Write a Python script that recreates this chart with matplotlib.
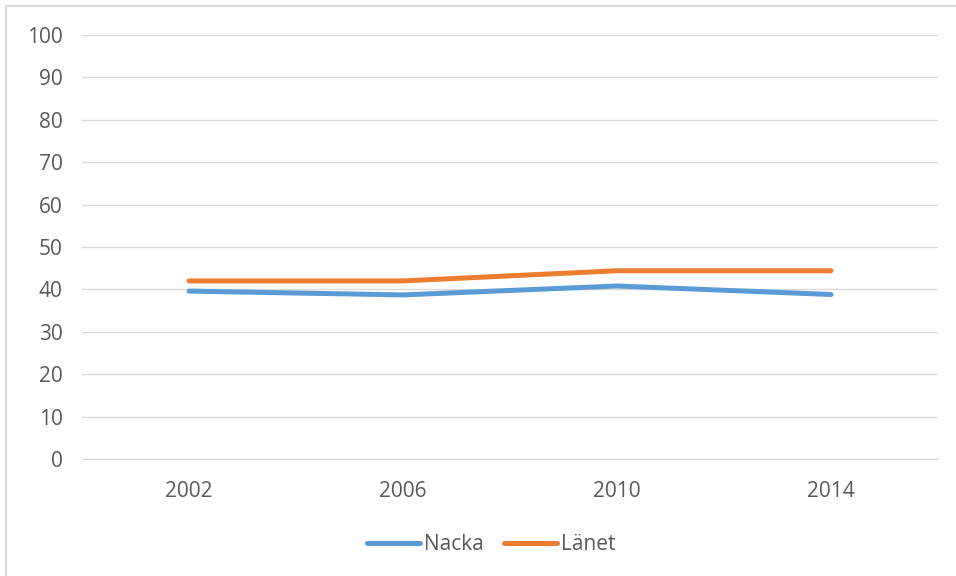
import matplotlib.pyplot as plt
from matplotlib.patches import Rectangle

years = ['2002', '2006', '2010', '2014']
nacka = [39.6, 38.7, 40.8, 38.8]
lanet = [42.0, 42.0, 44.4, 44.4]

plt.rcParams['font.family'] = ['Open Sans', 'DejaVu Sans']
text_col = '#595959'
grid_col = '#D9D9D9'

fig = plt.figure(figsize=(9.56, 5.76), dpi=100)
# chart border
fig.patches.append(Rectangle((6 / 956, -0.01), 1.02, 1 - 6 / 576 + 0.01,
                             transform=fig.transFigure, fill=False,
                             edgecolor='#D9D9D9', linewidth=1.5))

ax = fig.add_axes([82 / 956, 1 - 459 / 576, (938 - 82) / 956, (459 - 35) / 576])
x = range(len(years))
ax.plot(x, nacka, color='#5B9BD5', linewidth=3.6, solid_capstyle='round', label='Nacka')
ax.plot(x, lanet, color='#ED7D31', linewidth=3.6, solid_capstyle='round', label='Länet')

ax.set_xlim(-0.5, 3.5)
ax.set_ylim(0, 100)
ax.set_yticks(range(0, 101, 10))
ax.set_xticks(list(x))
ax.set_xticklabels(years)
ax.grid(axis='y', color=grid_col, linewidth=1)
ax.set_axisbelow(True)
for s in ['top', 'right', 'left']:
    ax.spines[s].set_visible(False)
ax.spines['bottom'].set_color(grid_col)
ax.tick_params(length=0, colors=text_col, labelsize=15)
ax.tick_params(axis='y', pad=14)
ax.tick_params(axis='x', pad=16)

leg = fig.legend(loc='center', bbox_to_anchor=(491 / 956, 1 - 545 / 576), ncol=2,
                 frameon=False, fontsize=15, handlelength=2.55,
                 handletextpad=0.2, columnspacing=0.95)
for t in leg.get_texts():
    t.set_color(text_col)

fig.savefig('out.png', dpi=100)
